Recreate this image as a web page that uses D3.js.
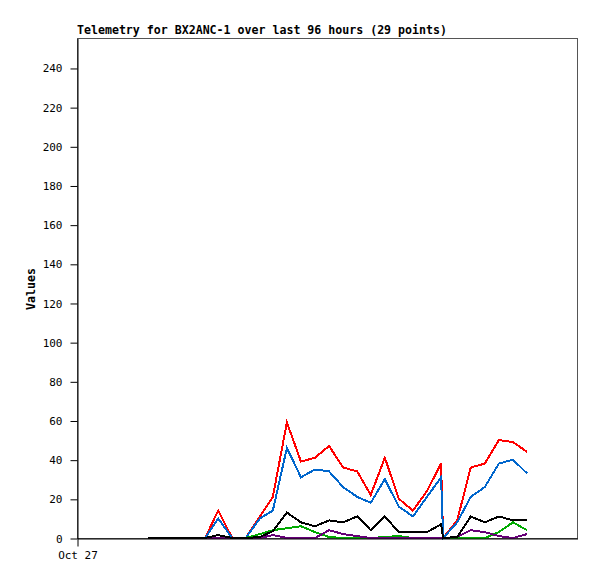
<!DOCTYPE html>
<html>
<head>
<meta charset="utf-8">
<script src="https://cdn.jsdelivr.net/npm/d3@7"></script>
<style>
  html, body { margin: 0; padding: 0; background: #fff; }
  svg { display: block; }
</style>
</head>
<body>
<script>
// ---- data ----
const titleText = "Telemetry for BX2ANC-1 over last 96 hours (29 points)";
const yLabel = "Values";
const xTickLabels = ["Oct 27"];
const xTickHours = [0];
const yTicks = [0, 20, 40, 60, 80, 100, 120, 140, 160, 180, 200, 220, 240];
// hours since start of window
const hours = [13.6,16.3,19.0,21.7,24.6,27.1,29.8,32.4,35.1,37.6,40.3,43.0,45.7,48.4,51.1,53.8,56.4,59.1,61.8,64.5,67.2,69.9,70.3,73.0,75.6,78.3,81.0,83.7,86.4];
const redVals    = [0,0,0,0,0,14,0,0,11,21,59,39,41,47,36,34,22,41,20,14,24,38,0,9,36,38,50,49,44];
const blueVals   = [0,0,0,0,0,10,0,0,10,14,46,31,35,34,26,21,18,30,16,11,21,31,0,8,21,26,38,40,33];
const greenVals  = [0,0,0,0,0,0,0,0,2,4,5,6,3,0.5,0,0,0,0.5,1,0,0,0,0,0,0,0,3,8,4];
const purpleVals = [0,0,0,0,0,0,0,0,0,1.5,0,0,0,4,2,1,0,0,0,0,0,0,0,0.5,4,3,1,0,2];
const blackVals  = [0,0,0,0,0,1.5,0,0,0.5,3.5,13,8,6,9,8,11,4,11,3,3,3,7,0,0.5,11,8,11,9,9];

const series = [
  {vals: redVals, color: "#ff0000"},
  {vals: blueVals, color: "#0066cc"},
  {vals: greenVals, color: "#00aa00"},
  {vals: purpleVals, color: "#660077"},
  {vals: blackVals, color: "#000000"}
];

// ---- layout ----
const W = 597, H = 579;
const L = 77, R = 577, T = 38, B = 538;

const svg = d3.select("body").append("svg").attr("width", W).attr("height", H);

const x = d3.scaleLinear().domain([0, 96]).range([L, R]);
const y = d3.scaleLinear().domain([0, 255.3]).range([B, T]);

// frame
svg.append("rect").attr("x", L + 0.5).attr("y", T + 0.5).attr("width", R - L).attr("height", B - T)
  .attr("fill", "none").attr("stroke", "#555").attr("stroke-width", 1);

// lines
const line = d3.line().x((d, i) => x(hours[i])).y(d => y(d));
series.forEach(s => {
  svg.append("path").datum(s.vals).attr("d", line)
    .attr("fill", "none").attr("stroke", s.color).attr("stroke-width", 2)
    .attr("stroke-linejoin", "miter").style("shape-rendering", "crispEdges");
});

const monoFont = "DejaVu Sans Mono, monospace";

// y axis
const yAxis = d3.axisLeft(y).tickValues(yTicks).tickSize(7).tickSizeOuter(0).tickPadding(8).tickFormat(d3.format("d"));
const gy = svg.append("g").attr("transform", `translate(${L + 0.5},0.5)`).call(yAxis);
gy.select(".domain").attr("stroke", "#000");
gy.selectAll("line").attr("stroke", "#000");
gy.selectAll("text").attr("font-family", monoFont).attr("font-size", "11px").attr("fill", "#000");

// x axis
const xAxis = d3.axisBottom(x).tickValues(xTickHours).tickSize(8).tickSizeOuter(0).tickPadding(5)
  .tickFormat((d, i) => xTickLabels[i]);
const gx = svg.append("g").attr("transform", `translate(0.5,${B + 0.5})`).call(xAxis);
gx.select(".domain").attr("stroke", "#000");
gx.selectAll("line").attr("stroke", "#000");
gx.selectAll("text").attr("font-family", monoFont).attr("font-size", "11px").attr("fill", "#000");

// title
svg.append("text").attr("x", L).attr("y", 34).text(titleText)
  .attr("font-family", monoFont).attr("font-weight", "bold").attr("font-size", "11.6px").attr("fill", "#000");

// y label
svg.append("text").attr("transform", `translate(35,${(T + B) / 2 + 1}) rotate(-90)`)
  .attr("text-anchor", "middle").text(yLabel)
  .attr("font-family", monoFont).attr("font-weight", "bold").attr("font-size", "11.6px").attr("fill", "#000");
</script>
</body>
</html>
